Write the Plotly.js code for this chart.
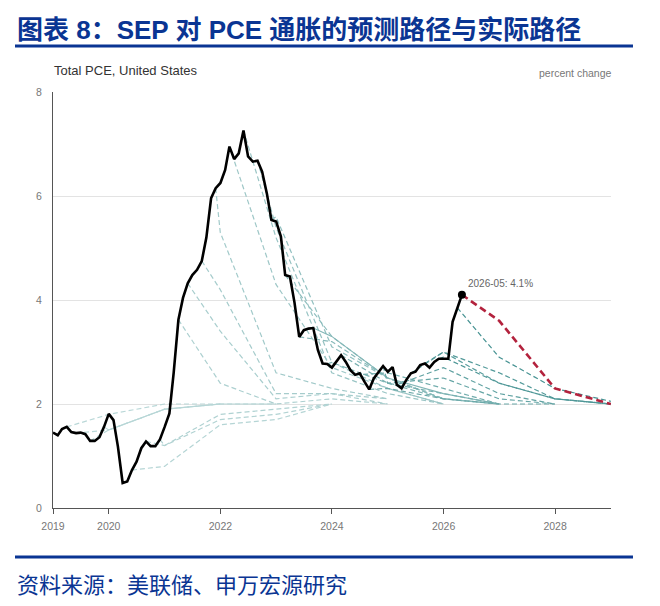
<!DOCTYPE html>
<html><head><meta charset="utf-8">
<script src="https://cdn.plot.ly/plotly-3.0.1.min.js"></script>
<style>html,body{margin:0;padding:0;background:#fff;}#chart{width:660px;height:606px;}</style>
</head><body><div id="chart"></div>
<script>
// ---- Data ----
const pceStartYear = 2019;
const pceValues = [
  1.45,1.40,1.52,1.56,1.46,1.44,1.45,1.42,1.29,1.29,1.36,1.56,
  1.81,1.69,1.18,0.48,0.51,0.73,0.89,1.15,1.28,1.19,1.19,1.32,
  1.56,1.82,2.60,3.62,4.04,4.32,4.48,4.58,4.75,5.20,5.96,6.15,
  6.25,6.50,6.95,6.71,6.82,7.26,6.76,6.66,6.68,6.47,6.05,5.54,
  5.51,5.22,4.48,4.45,3.95,3.29,3.42,3.45,3.46,3.04,2.78,2.77,
  2.70,2.82,2.94,2.81,2.65,2.56,2.59,2.43,2.28,2.49,2.62,2.73,
  2.62,2.71,2.37,2.30,2.46,2.59,2.62,2.75,2.78,2.70,2.81,2.87,
  2.87,2.87,3.58,3.85,4.10
];
const sepStarts = ['2019-04','2019-06','2019-09','2019-12','2020-06','2020-09','2020-12',
  '2021-04','2021-06','2021-09','2021-12','2022-03','2022-06','2022-09','2022-12',
  '2023-03','2023-06','2023-09','2023-12','2024-03','2024-06','2024-09','2024-12',
  '2025-03','2025-06','2025-09','2025-12','2026-04'];
const sepFirstYear = [2019,2019,2019,2019,2020,2020,2020,2021,2021,2021,2021,2022,2022,2022,2022,
  2023,2023,2023,2023,2024,2024,2024,2024,2025,2025,2025,2025,2026];
const sepPaths = [
  [1.8,2.0,2.0],[1.5,1.9,2.0],[1.5,1.9,2.0,2.0],[1.5,1.9,2.0,2.0],
  [0.8,1.6,1.7,2.0],[1.2,1.7,1.8,2.0],[1.2,1.8,1.9,2.0],
  [2.4,2.0,2.1,2.0],[3.4,2.1,2.2,2.0],[4.2,2.2,2.2,2.1],[5.3,2.6,2.3,2.1],
  [4.3,2.7,2.3,2.0],[5.2,2.6,2.2,2.0],[5.4,2.8,2.3,2.0],[5.6,3.1,2.5,2.1],
  [3.3,2.5,2.1,2.0],[3.2,2.5,2.1,2.0],[3.3,2.5,2.2,2.0],[2.8,2.4,2.1,2.0],
  [2.4,2.2,2.0],[2.6,2.3,2.0],[2.3,2.1,2.0,2.0],[2.4,2.5,2.1,2.0],
  [2.7,2.2,2.0],[3.0,2.4,2.1,2.0],[3.0,2.6,2.1,2.0],[2.9,2.4,2.1,2.0],
  [2.9,2.3,2.05]
];
const sepSolid = ['2019-12','2023-09'];
const latestStart = '2026-05';
const latestFirstYear = 2026;
const latestPath = [3.6,2.3,2.0];
const tickYears = ['2019','2020','2022','2024','2026','2028'];
const yTicks = [0,2,4,6,8];

// ---- Build ----
const pceDates = pceValues.map((v,i)=>{
  const y = pceStartYear + Math.floor(i/12), m = (i%12)+1;
  return y + '-' + String(m).padStart(2,'0') + '-01';
});
function pceAt(ym){ return pceValues[pceDates.indexOf(ym + '-01')]; }
function pathTrace(start, firstYear, vals){
  const xs = [start + '-01'], ys = [pceAt(start)];
  vals.forEach((v,k)=>{ xs.push((firstYear+k) + '-12-31'); ys.push(v); });
  return {xs, ys};
}
function mix(a,b,t){ return 'rgb(' + a.map((c,i)=>Math.round(c+(b[i]-c)*t)).join(',') + ')'; }
const traces = [];
sepStarts.forEach((s,i)=>{
  const p = pathTrace(s, sepFirstYear[i], sepPaths[i]);
  const t = Math.pow(i/(sepStarts.length-1), 1.6);
  const solid = sepSolid.includes(s);
  traces.push({x:p.xs, y:p.ys, type:'scatter', mode:'lines', hoverinfo:'skip',
    line:{color: mix([186,216,216],[70,146,146],t), width: solid?1.1:1.2, dash: solid?'solid':'5px,3px'}});
});
const lp = pathTrace(latestStart, latestFirstYear, latestPath);
traces.push({x:lp.xs, y:lp.ys, type:'scatter', mode:'lines', hoverinfo:'skip',
  line:{color:'#b3223d', width:2.6, dash:'7px,4px'}});
traces.push({x:pceDates, y:pceValues, type:'scatter', mode:'lines', hoverinfo:'skip',
  line:{color:'#000', width:2.6}});
const lastI = pceValues.length-1;
traces.push({x:[pceDates[lastI]], y:[pceValues[lastI]], type:'scatter', mode:'markers', hoverinfo:'skip',
  marker:{color:'#000', size:8}});

const navy = '#0a3593';
const layout = {
  width:660, height:606, showlegend:false,
  margin:{l:53, r:49, t:92, b:98},
  paper_bgcolor:'#fff', plot_bgcolor:'#fff',
  font:{family:'Liberation Sans, Arial, sans-serif', color:'#666'},
  xaxis:{type:'date', range:['2019-01-01','2029-01-01'],
    tickvals: tickYears.map(y=>y+'-01-01'), ticktext: tickYears,
    showgrid:false, zeroline:false, showline:true, linecolor:'#555', linewidth:1,
    ticks:'outside', ticklen:5, tickcolor:'#555', ticklabelstandoff:3, tickfont:{size:10.5, color:'#777'}},
  yaxis:{range:[0,8], tickvals:yTicks, ticktext:yTicks.map(String),
    showgrid:true, gridcolor:'#e3e3e3', gridwidth:1, zeroline:false,
    showline:true, linecolor:'#555', linewidth:1, ticks:'', ticklabelstandoff:8,
    tickfont:{size:10.5, color:'#777'}},
  shapes:[
    {type:'line', xref:'paper', yref:'paper', x0:-0.0681, x1:1.0394, y0:1.1106, y1:1.1106, line:{color:navy, width:3}},
    {type:'line', xref:'paper', yref:'paper', x0:-0.0681, x1:1.0394, y0:-0.1178, y1:-0.1178, line:{color:navy, width:3}}
  ],
  annotations:[
    {xref:'paper', yref:'paper', x:-0.0681, y:1.149, xanchor:'left', yanchor:'middle', showarrow:false,
     text:'<b>图表 8：SEP 对 PCE 通胀的预测路径与实际路径</b>',
     font:{family:'Liberation Sans, Noto Sans CJK SC, sans-serif', size:26, color:navy}},
    {xref:'paper', yref:'paper', x:-0.002, y:1.0505, xanchor:'left', yanchor:'middle', showarrow:false,
     text:'Total PCE, United States', font:{size:13, color:'#333'}},
    {xref:'paper', yref:'paper', x:1.005, y:1.0457, xanchor:'right', yanchor:'middle', showarrow:false,
     text:'percent change', font:{size:10.5, color:'#777'}},
    {xref:'x', yref:'y', x:pceDates[lastI], y:pceValues[lastI], xanchor:'left', yanchor:'middle',
     xshift:4, yshift:11, showarrow:false, text:'2026-05: 4.1%', font:{size:10, color:'#666'}},
    {xref:'paper', yref:'paper', x:-0.0681, y:-0.1803, xanchor:'left', yanchor:'middle', showarrow:false,
     text:'资料来源：美联储、申万宏源研究',
     font:{family:'Noto Sans CJK SC, sans-serif', size:22, color:navy}}
  ]
};
Plotly.newPlot('chart', traces, layout, {staticPlot:true, displayModeBar:false});
</script></body></html>
